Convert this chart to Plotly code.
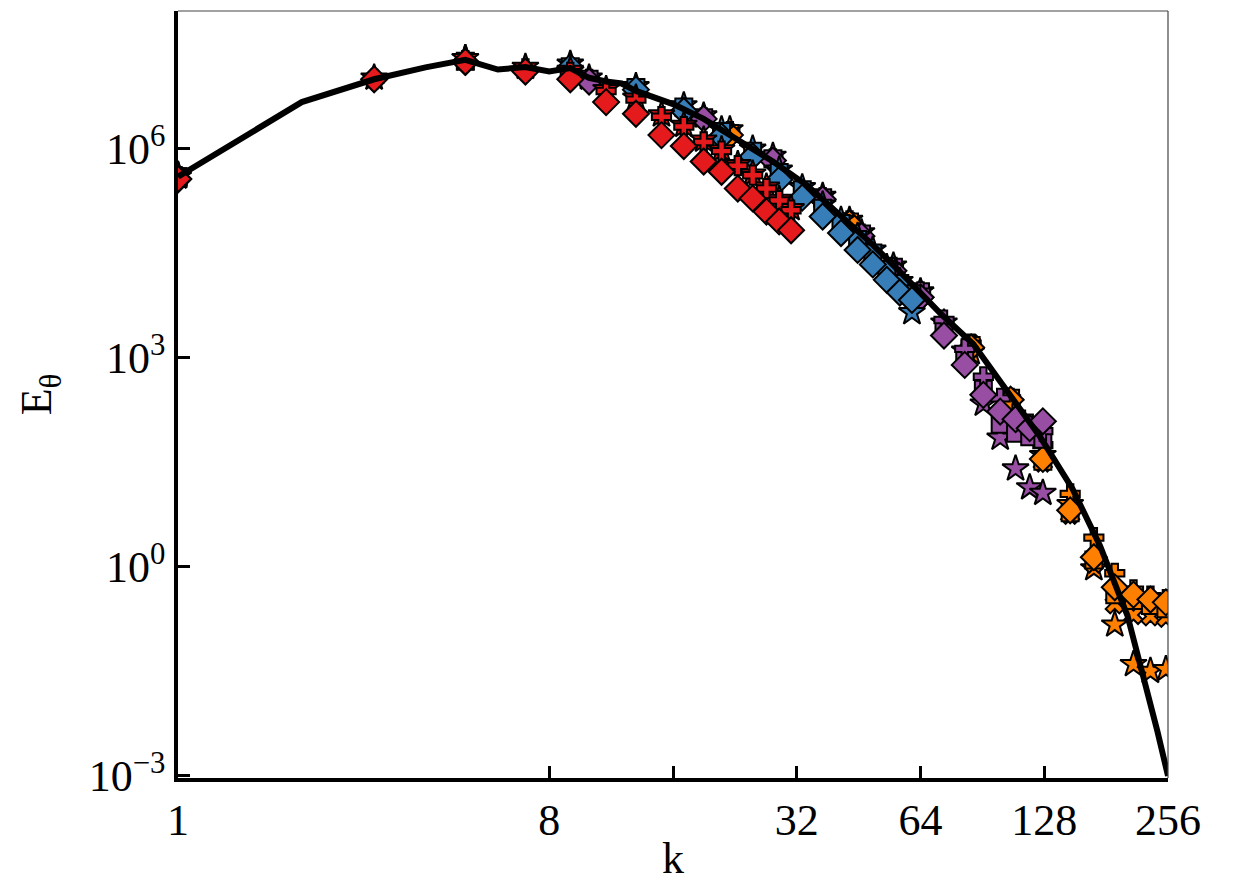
import plotly.graph_objects as go

# ---------------- data ----------------
# reference curve
line_k = [1, 2, 3, 4, 5, 6, 7, 8, 9, 10, 11, 12, 13, 16, 19, 23, 28, 34, 41, 49,
          59, 72, 86, 104, 125, 150, 175, 204, 223, 241, 256]
line_E = [4.0e5, 4.7e6, 1.0e7, 1.48e7, 1.9e7, 1.38e7, 1.5e7, 1.29e7, 1.45e7, 1.05e7,
          9.3e6, 8.7e6, 6.8e6, 4.4e6, 2.7e6, 1.38e6, 6.6e5, 2.95e5, 1.12e5, 4.2e4,
          1.41e4, 4.2e3, 1.58e3, 347, 74, 13.2, 2.0, 0.2, 0.028, 0.0045, 0.001]

# red series
red_k = [1, 3, 5, 7, 9, 11, 13, 15, 17, 19, 21, 23, 25, 27, 29, 31]
red_diamond = [3.7e5, 1.0e7, 1.78e7, 1.29e7, 1.0e7, 4.7e6, 3.2e6, 1.58e6, 1.1e6, 6.6e5,
               4.7e5, 2.7e5, 1.95e5, 1.26e5, 9.1e4, 6.8e4]
red_cross = [4.0e5, 1.0e7, 1.86e7, 1.41e7, 1.26e7, 6.8e6, 5.1e6, 2.9e6, 2.1e6, 1.26e6,
             9.3e5, 5.75e5, 4.2e5, 2.7e5, 1.82e5, 1.32e5]
red_star = [4.2e5, 1.05e7, 2.0e7, 1.5e7, 1.35e7, 7.2e6, 5.4e6, 3.1e6, 2.2e6, 1.35e6,
            9.8e5, 6.0e5, 4.4e5, 2.85e5, 1.9e5, 1.4e5]

# blue series
blue_k = [1, 5, 9, 13, 17, 21, 25, 29, 33, 37, 41, 45, 49, 53, 57, 61]
blue_diamond = [3.7e5, 1.78e7, 1.48e7, 7.1e6, 3.5e6, 1.51e6, 7.8e5, 3.6e5, 2.0e5, 1.07e5,
                6.2e4, 3.55e4, 2.2e4, 1.32e4, 8.7e3, 6.8e3]
blue_square = [3.8e5, 1.82e7, 1.51e7, 7.6e6, 4.0e6, 1.78e6, 9.3e5, 4.6e5, 2.6e5, 1.41e5,
               8.5e4, 5.0e4, 3.2e4, 1.86e4, 1.17e4, 8.3e3]
blue_star = [4.0e5, 2.0e7, 1.66e7, 7.9e6, 4.2e6, 1.9e6, 1.0e6, 5.0e5, 2.8e5, 1.58e5,
             9.5e4, 5.6e4, 3.55e4, 2.0e4, 1.26e4, 4.5e3]

# purple series
purple_k = [1, 10, 19, 28, 37, 46, 55, 64, 73, 82, 91, 100, 109, 118, 127]
purple_diamond = [3.7e5, 9.3e6, 2.7e6, 6.8e5, 1.9e5, 5.6e4, 1.78e4, 7.4e3, 2.1e3, 794,
                  295, 170, 132, 98, 123]
purple_cross = [4.0e5, 1.0e7, 2.8e6, 7.2e5, 2.0e5, 6.0e4, 2.0e4, 8.9e3, 3.5e3, 1.35e3,
                537, 263, 158, 112, 89]
purple_square = [4.0e5, 1.0e7, 2.8e6, 7.2e5, 2.0e5, 6.0e4, 2.0e4, 8.9e3, 2.8e3, 1.0e3,
                 355, 112, 83, 74, 68]
purple_star = [4.0e5, 1.05e7, 3.0e6, 7.9e5, 2.1e5, 6.3e4, 2.1e4, 8.9e3, 3.2e3, 1.26e3,
               219, 71, 25.7, 13.8, 11.5]

# orange series
orange_k = [1, 22, 43, 64, 85, 106, 127, 148, 169, 190, 211, 232, 253]
orange_diamond = [3.7e5, 1.58e6, 8.5e4, 7.4e3, 1.41e3, 251, 35.5, 6.5, 1.38, 0.51, 0.40, 0.34, 0.31]
orange_cross = [4.0e5, 1.78e6, 9.3e4, 8.3e3, 1.58e3, 263, 56, 11.2, 2.63, 0.81, 0.47, 0.38, 0.34]
orange_square = [4.0e5, 1.66e6, 8.9e4, 7.9e3, 1.51e3, 263, 33, 6.0, 1.26, 0.40, 0.33, 0.28, 0.25]
orange_x = [4.0e5, 1.66e6, 8.9e4, 7.9e3, 1.58e3, 251, 31.6, 5.6, 1.12, 0.29, 0.204, 0.195, 0.186]
orange_star = [4.2e5, 1.9e6, 9.5e4, 8.9e3, 1.2e3, 219, 40, 7.9, 0.95, 0.148, 0.040, 0.032, 0.034]

x_tickvals = [1, 8, 16, 32, 64, 128, 256]
x_ticktext = ["1", "8", "", "32", "64", "128", "256"]
y_tickvals = [1e-3, 1e0, 1e3, 1e6]
y_ticktext = ["10<sup>\u22123</sup>", "10<sup>0</sup>", "10<sup>3</sup>", "10<sup>6</sup>"]

RED, BLUE, PURPLE, ORANGE = "#e41a1c", "#377eb8", "#984ea3", "#ff7f00"
SIZES = {"star": 20, "x": 16, "square": 17, "cross": 16, "diamond": 20}
FONT = "Liberation Serif"

fig = go.Figure()


def add(k, vals, color, symbol):
    fig.add_trace(go.Scatter(
        x=k, y=vals, mode="markers",
        marker=dict(symbol=symbol, size=SIZES[symbol], color=color,
                    line=dict(color="black", width=2)),
        showlegend=False, hoverinfo="skip"))


add(orange_k, orange_star, ORANGE, "star")
add(orange_k, orange_x, ORANGE, "x")
add(orange_k, orange_square, ORANGE, "square")
add(orange_k, orange_cross, ORANGE, "cross")
add(orange_k, orange_diamond, ORANGE, "diamond")

add(purple_k, purple_star, PURPLE, "star")
add(purple_k, purple_square, PURPLE, "square")
add(purple_k, purple_cross, PURPLE, "cross")
add(purple_k, purple_diamond, PURPLE, "diamond")

add(blue_k, blue_star, BLUE, "star")
add(blue_k, blue_square, BLUE, "square")
add(blue_k, blue_diamond, BLUE, "diamond")

add(red_k, red_star, RED, "star")
add(red_k, red_cross, RED, "cross")
add(red_k, red_diamond, RED, "diamond")

fig.add_trace(go.Scatter(x=line_k, y=line_E, mode="lines",
                         line=dict(color="black", width=6),
                         showlegend=False, hoverinfo="skip"))

fig.update_layout(
    width=1240, height=886,
    margin=dict(l=178, r=72, t=11, b=102),
    paper_bgcolor="white", plot_bgcolor="white",
    font=dict(family=FONT, color="black", size=44),
    xaxis=dict(type="log", range=[0, 2.40824], tickvals=x_tickvals, ticktext=x_ticktext,
               ticks="inside", ticklen=12, tickwidth=2.5, tickcolor="black",
               showline=True, linewidth=3.5, linecolor="black", mirror=False,
               showgrid=False, zeroline=False,
               tickfont=dict(family=FONT, size=44),
               title=dict(text="k", font=dict(family=FONT, size=44), standoff=0)),
    yaxis=dict(type="log", range=[-3.03, 7.98], tickvals=y_tickvals, ticktext=y_ticktext,
               ticks="inside", ticklen=12, tickwidth=2.5, tickcolor="black",
               showline=True, linewidth=3.5, linecolor="black", mirror=False,
               showgrid=False, zeroline=False,
               tickfont=dict(family=FONT, size=44),
               title=dict(text="E<sub>\u03b8</sub>", font=dict(family=FONT, size=44), standoff=24)),
    shapes=[
        dict(type="line", xref="paper", yref="paper", x0=0, x1=1, y0=1, y1=1,
             line=dict(color="#444", width=1.2)),
        dict(type="line", xref="paper", yref="paper", x0=1, x1=1, y0=0, y1=1,
             line=dict(color="#444", width=1.2)),
    ],
)

fig.write_html("out.html")
